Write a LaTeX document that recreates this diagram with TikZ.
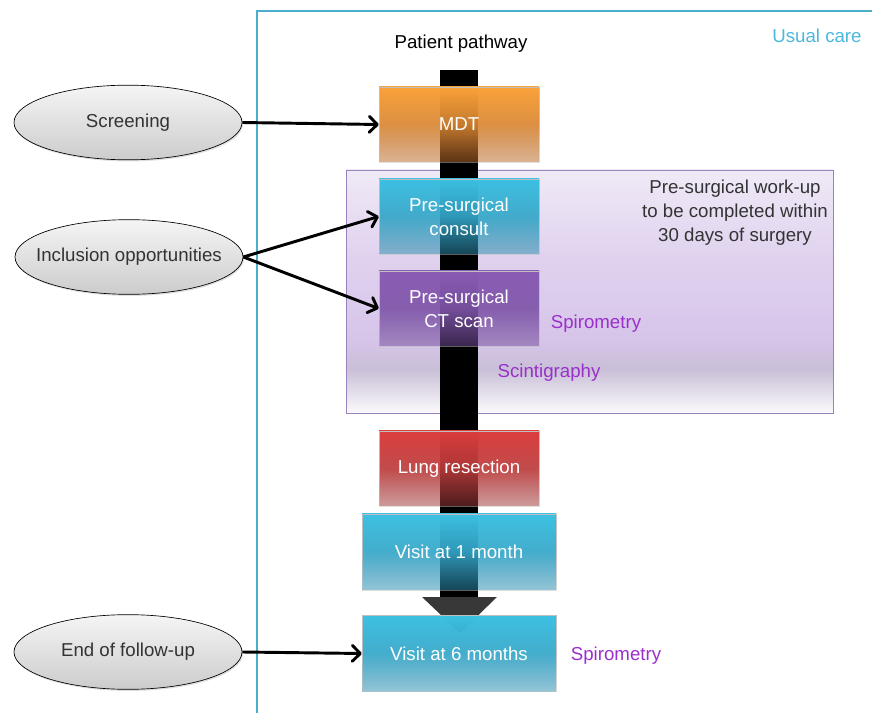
\documentclass[tikz,border=0pt]{standalone}
\usepackage{fontspec}
\setmainfont{Liberation Sans}
\usepackage{tikz}
\usetikzlibrary{positioning, arrows.meta, shapes.geometric, shadows, fadings}

\definecolor{carecyan}{HTML}{4BAFCB}
\definecolor{caretext}{HTML}{4BB8DD}
\definecolor{workpurple}{HTML}{9A2FCC}
\definecolor{worktop}{HTML}{F0EAF7}
\definecolor{workmid}{HTML}{D6C4E9}
\definecolor{workgray}{HTML}{C9BFD7}
\definecolor{workbot}{HTML}{FBFAFC}
\definecolor{workline}{HTML}{9C82BC}
\definecolor{orangetop}{HTML}{FAA23A}
\definecolor{orangebot}{HTML}{B86A2A}
\definecolor{cyantop}{HTML}{3CC0E2}
\definecolor{cyanbot}{HTML}{2C8CAE}
\definecolor{purpletop}{HTML}{8A5CB5}
\definecolor{purplebot}{HTML}{744E9C}
\definecolor{redtop}{HTML}{DB3D3D}
\definecolor{redbot}{HTML}{9E3A3A}
\tikzfading[name=boxfade, top color=transparent!0, bottom color=transparent!50, middle color=transparent!8]
\pgfdeclareverticalshading{workshade}{100bp}{color(0bp)=(workbot); color(25bp)=(workbot);
    color(34bp)=(workgray); color(40bp)=(workmid); color(58bp)=(workmid!60!worktop);
    color(75bp)=(worktop); color(100bp)=(worktop)}

\begin{document}
\begin{tikzpicture}[x=0.75pt, y=-0.75pt, font=\fontsize{14}{18}\selectfont,
    stepbox/.style={rectangle, minimum width=120, minimum height=56.25, align=center,
        text=white, draw=black!25, line width=0.4pt, path fading=boxfade},
    widebox/.style={stepbox, minimum width=145.5, minimum height=57},
    entry/.style={ellipse, draw, line width=0.5pt, minimum width=171, minimum height=56,
        inner xsep=-10pt, text=black!80, top color=gray!8, bottom color=gray!40,
        drop shadow={opacity=0.25, shadow xshift=0.8pt, shadow yshift=-1.2pt}},
    link/.style={line width=2.2pt, -{Straight Barb[round, length=6pt, width=12pt]}}]

    \useasboundingbox (0,0) rectangle (872,713);
    \draw[carecyan, line width=2.2pt] (257,720) |- (880,11);
    \node[text=caretext] (usual) at (817,36) {Usual care};
    \node (pathway) at (461,44) {Patient pathway};

    \shade[shading=workshade] (346,170) rectangle (833,413);
    \draw[workline, line width=0.6pt] (346,170) rectangle (833,413);

    \fill[black] (440,70) rectangle (478,597);
    \fill[black!78] (422,597) -- (497,597) -- (460,633) -- cycle;

    \node[stepbox, top color=orangetop, bottom color=orangebot] (mdt) at (459,124.5) {MDT};
    \node[stepbox, top color=cyantop, bottom color=cyanbot] (consult) at (459,216.5) {Pre-surgical\\consult};
    \node[stepbox, top color=purpletop, bottom color=purplebot] (ctscan) at (459,308.5) {Pre-surgical\\CT scan};
    \node[stepbox, top color=redtop, bottom color=redbot] (resection) at (459,468.5) {Lung resection};
    \node[widebox, top color=cyantop, bottom color=cyanbot] (visit1) at (459,552) {Visit at 1 month};
    \node[widebox, top color=cyantop, bottom color=cyanbot] (visit6) at (459,653.5) {Visit at 6 months};

    \node[align=center, text=black!80] (workup) at (735,213) {Pre-surgical work-up\\to be completed within\\30 days of surgery};
    \node[text=workpurple] (spiro1) at (596,324) {Spirometry};
    \node[text=workpurple] (scinti) at (549,373) {Scintigraphy};
    \node[text=workpurple] (spiro2) at (616,656) {Spirometry};

    \node[entry] (screening) at (128,122.5) {Screening};
    \node[entry] (inclusion) at (129,257) {Inclusion opportunities};
    \node[entry] (endfu) at (128,652) {End of follow-up};

    \draw[link] (screening.east) -- (mdt.west);
    \draw[link] (inclusion.east) -- (consult.west);
    \draw[link] (inclusion.east) -- (ctscan.west);
    \draw[link] (endfu.east) -- (visit6.west);
\end{tikzpicture}
\end{document}
